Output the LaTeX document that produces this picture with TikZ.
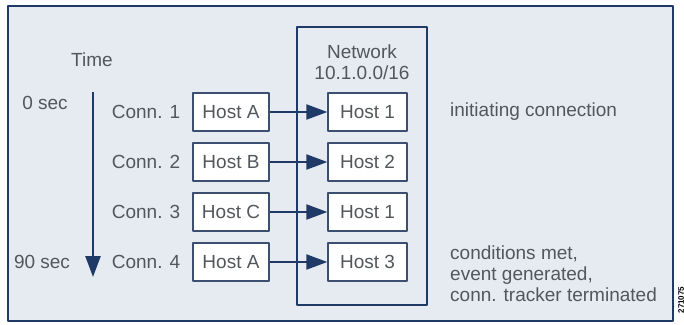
\documentclass[tikz,border=0pt]{standalone}
\usepackage{fontspec}
\setmainfont{Liberation Sans}
\usetikzlibrary{arrows.meta}
\definecolor{navy}{HTML}{1F3A66}
\definecolor{panel}{HTML}{E5EBF1}
\definecolor{txt}{HTML}{53575B}
\begin{document}
\begin{tikzpicture}[x=1pt,y=-1pt,line join=round,>={Triangle[length=21pt,width=15pt]},
	font=\fontsize{19}{21}\selectfont,
	host/.style={draw=navy!70!gray,fill=white,line width=1.3pt,minimum height=38pt,inner sep=0pt,text=txt},
	lbl/.style={text=txt,inner sep=0pt}]
	\useasboundingbox (0,0) rectangle (684,324);
	\draw[navy,line width=1.5pt,fill=panel] (8,6) rectangle (673,321);
	\draw[navy,line width=1.5pt] (297,27) rectangle (427,305);
	\node[lbl,align=center] (net) at (362,62) {Network\\10.1.0.0/16};
	\node[lbl] (time) at (92,60) {Time};
	\node[lbl] (t0) at (45,103) {0 sec};
	\node[lbl] (t90) at (42,262) {90 sec};
	\coordinate (tstart) at (93,92);
	\coordinate (tend) at (93,277);
	\draw[->,navy,line width=2.5pt] (tstart)--(tend);
	\foreach \i/\src/\dst in {1/A/1,2/B/2,3/C/1,4/A/3}{
		\node[lbl] (conn\i) at (146,{112+50*(\i-1)}) {Conn. \i};
		\node[host,minimum width=76pt] (src\i) at (231,{112+50*(\i-1)}) {Host \src};
		\node[host,minimum width=79pt] (dst\i) at (367.5,{112+50*(\i-1)}) {Host \dst};
		\draw[->,navy,line width=2pt] (src\i)--(dst\i);
	}
	\node[lbl,anchor=west] (init) at (450,112) {initiating connection};
	\node[lbl,anchor=west,align=left] (done) at (450,274) {conditions met,\\event generated,\\conn. tracker terminated};
	\node[rotate=90,inner sep=0pt,font=\fontsize{8}{9}\selectfont\bfseries] (figid) at (681,300) {271075};
\end{tikzpicture}
\end{document}
